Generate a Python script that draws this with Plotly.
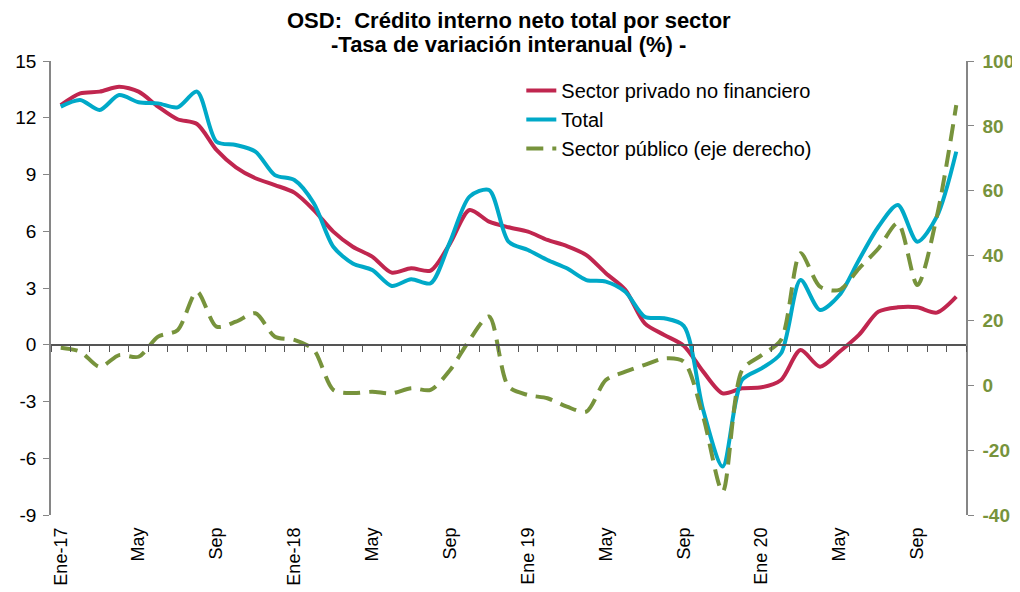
import plotly.graph_objects as go

# monthly categories Jan-2017 .. Nov-2020
meses_abbr = ["Ene", "Feb", "Mar", "Abr", "May", "Jun", "Jul", "Ago", "Sep", "Oct", "Nov", "Dic"]
months = [f"{m}-{y}" for y in (17, 18, 19, 20) for m in meses_abbr][:47]

tick_vals = months[::4]
tick_text = ["Ene-17", "May", "Sep", "Ene-18", "May", "Sep",
             "Ene 19", "May", "Sep", "Ene 20", "May", "Sep"]

left_ticks = [-9, -6, -3, 0, 3, 6, 9, 12, 15]
right_ticks = [-40, -20, 0, 20, 40, 60, 80, 100]

privado = [12.67, 13.29, 13.38, 13.64, 13.38, 12.59, 11.92, 11.67, 10.30, 9.38,
           8.80, 8.44, 8.04, 7.12, 5.98, 5.18, 4.66, 3.81, 4.04, 3.92,
           5.36, 7.12, 6.51, 6.21, 5.98, 5.54, 5.22, 4.74, 3.78, 2.90,
           1.13, 0.52, -0.05, -1.42, -2.57, -2.30, -2.25, -1.86, -0.28, -1.16,
           -0.37, 0.52, 1.75, 1.98, 1.98, 1.70, 2.54]

total = [12.59, 12.94, 12.41, 13.20, 12.82, 12.76, 12.55, 13.38, 10.73, 10.56,
         10.21, 8.97, 8.71, 7.48, 5.18, 4.30, 3.95, 3.11, 3.46, 3.25,
         5.45, 7.83, 8.18, 5.45, 5.01, 4.48, 4.04, 3.42, 3.34, 2.80,
         1.48, 1.40, 1.00, -3.45, -6.44, -1.86, -1.25, -0.45, 3.42, 1.84,
         2.63, 4.48, 6.24, 7.39, 5.45, 6.77, 10.21]

publico = [11.6, 10.4, 5.7, 9.3, 8.8, 15.0, 17.0, 28.9, 18.1, 19.6,
           22.2, 15.0, 14.0, 10.9, -1.4, -2.4, -2.0, -2.5, -0.9, -1.4,
           4.7, 14.0, 21.2, -0.4, -3.0, -4.0, -6.6, -8.1, 1.6, 4.2,
           6.3, 8.3, 7.3, -9.7, -32.8, 4.7, 9.3, 14.0, 40.7, 30.4,
           29.4, 36.0, 42.2, 50.0, 30.9, 52.0, 86.4]

RED = "#C0264F"
CYAN = "#00A9C8"
GREEN = "#77933C"
AXIS = "#868686"
FONT = "Liberation Sans, Arial, sans-serif"

fig = go.Figure()
fig.add_trace(go.Scatter(x=months, y=privado, name="Sector privado no financiero",
                         mode="lines", line=dict(color=RED, width=4, shape="spline", smoothing=0.8),
                         legendgroup="a"))
fig.add_trace(go.Scatter(x=months, y=total, name="Total",
                         mode="lines", line=dict(color=CYAN, width=4, shape="spline", smoothing=0.8),
                         legendgroup="b"))
fig.add_trace(go.Scatter(x=months, y=publico, name="Sector público (eje derecho)", yaxis="y2",
                         mode="lines", line=dict(color=GREEN, width=4, dash="17px,9px", shape="spline", smoothing=0.8),
                         legendgroup="c"))
# invisible trace so xaxis2 (zero line with ticks) is drawn
fig.add_trace(go.Scatter(x=[0], y=[None], xaxis="x2", showlegend=False, hoverinfo="skip"))

fig.update_layout(
    width=1012, height=584,
    margin=dict(l=43, r=54, t=53, b=77),
    paper_bgcolor="white", plot_bgcolor="white",
    font=dict(family=FONT, size=18, color="black"),
    showlegend=True,
    legend=dict(x=0.514, y=0.978, xanchor="left", yanchor="top", bgcolor="rgba(0,0,0,0)",
                font=dict(size=20), tracegroupgap=0, traceorder="grouped"),
    xaxis=dict(type="category", categoryarray=months, tickmode="array",
               tickvals=tick_vals, ticktext=tick_text, tickangle=-90,
               showgrid=False, showline=False, ticks="", ticklabelstandoff=8,
               zeroline=False, automargin=False,
               range=[-0.5, len(months) - 0.5], tickfont=dict(size=18)),
    xaxis2=dict(overlaying="x", anchor="free", position=0.375, range=[-0.5, len(months) - 0.5],
                tickmode="linear", tick0=-0.5, dtick=1, ticks="outside", ticklen=6,
                tickcolor="#555555", linecolor="#555555", showline=True, linewidth=1.5,
                showticklabels=False, showgrid=False, zeroline=False, automargin=False),
    yaxis=dict(range=[-9, 15], tickmode="array", tickvals=left_ticks,
               ticktext=[str(v) for v in left_ticks], showgrid=False, zeroline=False,
               showline=True, linecolor=AXIS, linewidth=1.5, ticks="outside", ticklen=6,
               tickcolor=AXIS, ticklabelstandoff=3, automargin=False,
               tickfont=dict(size=19, color="black")),
    yaxis2=dict(range=[-40, 100], tickmode="array", tickvals=right_ticks,
                ticktext=[str(v) for v in right_ticks], overlaying="y", side="right",
                showgrid=False, zeroline=False, showline=True, linecolor=AXIS, linewidth=1.5,
                ticks="outside", ticklen=6, tickcolor=AXIS, ticklabelstandoff=5, automargin=False,
                tickfont=dict(size=19, color=GREEN, weight="bold")),
    annotations=[
        dict(text="<b>OSD:  Crédito interno neto total por sector</b>", xref="paper", yref="paper",
             x=0.5, y=1 + 40 / 454, xanchor="center", yanchor="middle", showarrow=False,
             borderpad=0, font=dict(size=22, color="black")),
        dict(text="<b>-Tasa de variación interanual (%) -</b>", xref="paper", yref="paper",
             x=0.5, y=1 + 16 / 454, xanchor="center", yanchor="middle", showarrow=False,
             borderpad=0, font=dict(size=22, color="black")),
    ],
)

fig.write_html("out.html")
